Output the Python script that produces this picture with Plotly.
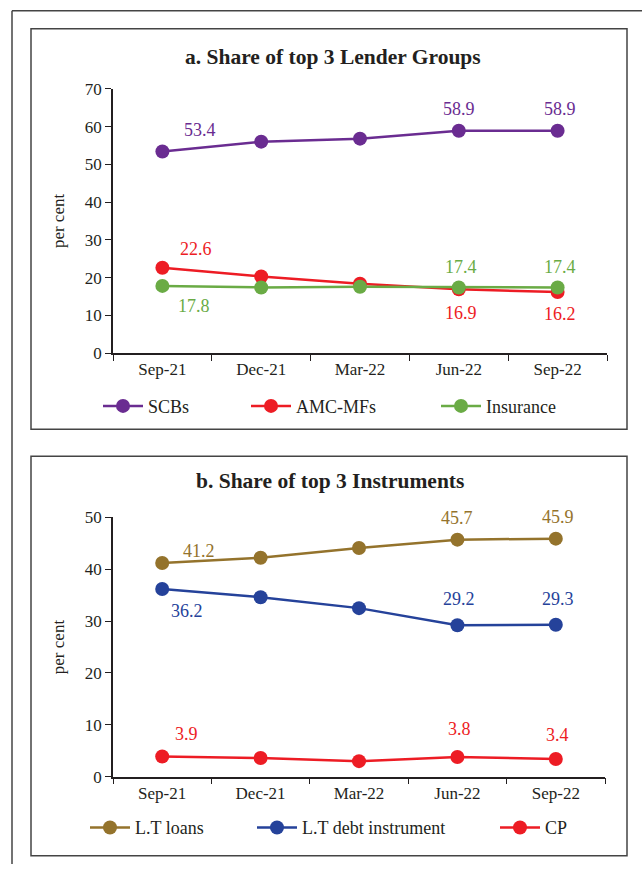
import plotly.graph_objects as go

# data
quarters = ["Sep-21", "Dec-21", "Mar-22", "Jun-22", "Sep-22"]

scbs = [53.4, 56.0, 56.8, 58.9, 58.9]
amc_mfs = [22.6, 20.3, 18.4, 16.9, 16.2]
insurance = [17.8, 17.4, 17.6, 17.4, 17.4]

lt_loans = [41.2, 42.2, 44.1, 45.7, 45.9]
lt_debt = [36.2, 34.6, 32.5, 29.2, 29.3]
cp = [3.9, 3.6, 3.0, 3.8, 3.4]

W, H = 642, 874
FONT = "Liberation Serif"
INK = "#231F20"


def px(x):
    return x / W


def py_(y):
    # page pixel (as seen in the screenshot) -> paper fraction
    y = (y - 9.3) / 0.977
    return 1 - y / H


fig = go.Figure()

# name, values, colour, legend id, legend left x (px)
series_a = [("SCBs", scbs, "#6A2C91", "legend", 98),
            ("AMC-MFs", amc_mfs, "#ED1C24", "legend2", 246),
            ("Insurance", insurance, "#6AAB45", "legend3", 436)]
series_b = [("L.T loans", lt_loans, "#94732C", "legend4", 85),
            ("L.T debt instrument", lt_debt, "#25429A", "legend5", 252),
            ("CP", cp, "#ED1C24", "legend6", 495)]

legends = {}
for name, vals, col, lg, lx in series_a:
    fig.add_trace(go.Scatter(x=quarters, y=vals, name=name, mode="lines+markers",
                             line=dict(color=col, width=2.5), marker=dict(size=14, color=col),
                             xaxis="x", yaxis="y", legend=lg))
    legends[lg] = (lx, 406)
for name, vals, col, lg, lx in series_b:
    fig.add_trace(go.Scatter(x=quarters, y=vals, name=name, mode="lines+markers",
                             line=dict(color=col, width=2.5), marker=dict(size=14, color=col),
                             xaxis="x2", yaxis="y2", legend=lg))
    legends[lg] = (lx, 827)

# data labels (index, series, colour, x shift, y shift)
labels_a = [
    (0, scbs, "#6A2C91", 38, 21), (3, scbs, "#6A2C91", 0, 22), (4, scbs, "#6A2C91", 2, 22),
    (0, amc_mfs, "#ED1C24", 34, 19), (3, amc_mfs, "#ED1C24", 2, -24), (4, amc_mfs, "#ED1C24", 2, -22),
    (0, insurance, "#6AAB45", 32, -20), (3, insurance, "#6AAB45", 2, 20), (4, insurance, "#6AAB45", 2, 20),
]
labels_b = [
    (0, lt_loans, "#94732C", 37, 12), (3, lt_loans, "#94732C", 0, 22), (4, lt_loans, "#94732C", 2, 22),
    (0, lt_debt, "#25429A", 25, -22), (3, lt_debt, "#25429A", 2, 26), (4, lt_debt, "#25429A", 2, 26),
    (0, cp, "#ED1C24", 24, 22), (3, cp, "#ED1C24", 2, 28), (4, cp, "#ED1C24", 2, 24),
]
ann = []
for i, vals, col, dx, dy in labels_a:
    ann.append(dict(x=quarters[i], y=vals[i], xref="x", yref="y", text=f"{vals[i]:.1f}",
                    showarrow=False, xshift=dx, yshift=dy, font=dict(family=FONT, size=18, color=col)))
for i, vals, col, dx, dy in labels_b:
    ann.append(dict(x=quarters[i], y=vals[i], xref="x2", yref="y2", text=f"{vals[i]:.1f}",
                    showarrow=False, xshift=dx, yshift=dy, font=dict(family=FONT, size=18, color=col)))

ann.append(dict(x=px(333), y=py_(57), xref="paper", yref="paper", showarrow=False,
                xanchor="center", yanchor="middle",
                text="<b>a. Share of top 3 Lender Groups</b>", font=dict(family=FONT, size=21.5, color=INK)))
ann.append(dict(x=px(330), y=py_(481), xref="paper", yref="paper", showarrow=False,
                xanchor="center", yanchor="middle",
                text="<b>b. Share of top 3 Instruments</b>", font=dict(family=FONT, size=21.5, color=INK)))

shapes = [
    dict(type="rect", xref="paper", yref="paper", x0=px(31), x1=px(627), y0=py_(29), y1=py_(429),
         line=dict(color="#444", width=1.5)),
    dict(type="rect", xref="paper", yref="paper", x0=px(31), x1=px(627), y0=py_(456), y1=py_(855),
         line=dict(color="#444", width=1.5)),
    dict(type="line", xref="paper", yref="paper", x0=px(12), x1=px(12), y0=py_(11), y1=0,
         line=dict(color="#444", width=1.5)),
    dict(type="line", xref="paper", yref="paper", x0=px(12), x1=1, y0=py_(11), y1=py_(11),
         line=dict(color="#444", width=1.5)),
]

xa = dict(type="category", tickson="boundaries", ticks="outside", ticklen=6, tickcolor=INK,
          showline=True, linecolor=INK, linewidth=1.5, showgrid=False, range=[-0.5, 4.5],
          tickfont=dict(family=FONT, size=17, color=INK))
ya = dict(ticks="outside", ticklen=6, tickcolor=INK, showline=True, linecolor=INK,
          linewidth=1.5, showgrid=False, zeroline=False,
          tickfont=dict(family=FONT, size=17, color=INK),
          title=dict(text="per cent", font=dict(family=FONT, size=17, color=INK), standoff=16))

layout_legends = {}
for lg, (lx, ly) in legends.items():
    layout_legends[lg] = dict(orientation="h", xanchor="left", yanchor="middle", x=px(lx), y=py_(ly),
                              bgcolor="rgba(0,0,0,0)", font=dict(family=FONT, size=18, color=INK),
                              itemwidth=40)

fig.update_layout(
    width=W, height=H, margin=dict(l=0, r=0, t=0, b=0),
    font=dict(family=FONT, size=17, color=INK),
    paper_bgcolor="white", plot_bgcolor="white", showlegend=True,
    xaxis=dict(xa, domain=[px(113), px(607)], anchor="y"),
    yaxis=dict(ya, domain=[py_(353), py_(89)], range=[0, 70], dtick=10, anchor="x"),
    xaxis2=dict(xa, domain=[px(113), px(605)], anchor="y2"),
    yaxis2=dict(ya, domain=[py_(776), py_(517)], range=[0, 50], dtick=10, anchor="x2"),
    annotations=ann, shapes=shapes,
    **layout_legends,
)

# page margin off so the 642x874 figure fills the window exactly
fig.write_html("out.html", config={"displayModeBar": False},
               post_script="document.body.style.margin = '0';")
